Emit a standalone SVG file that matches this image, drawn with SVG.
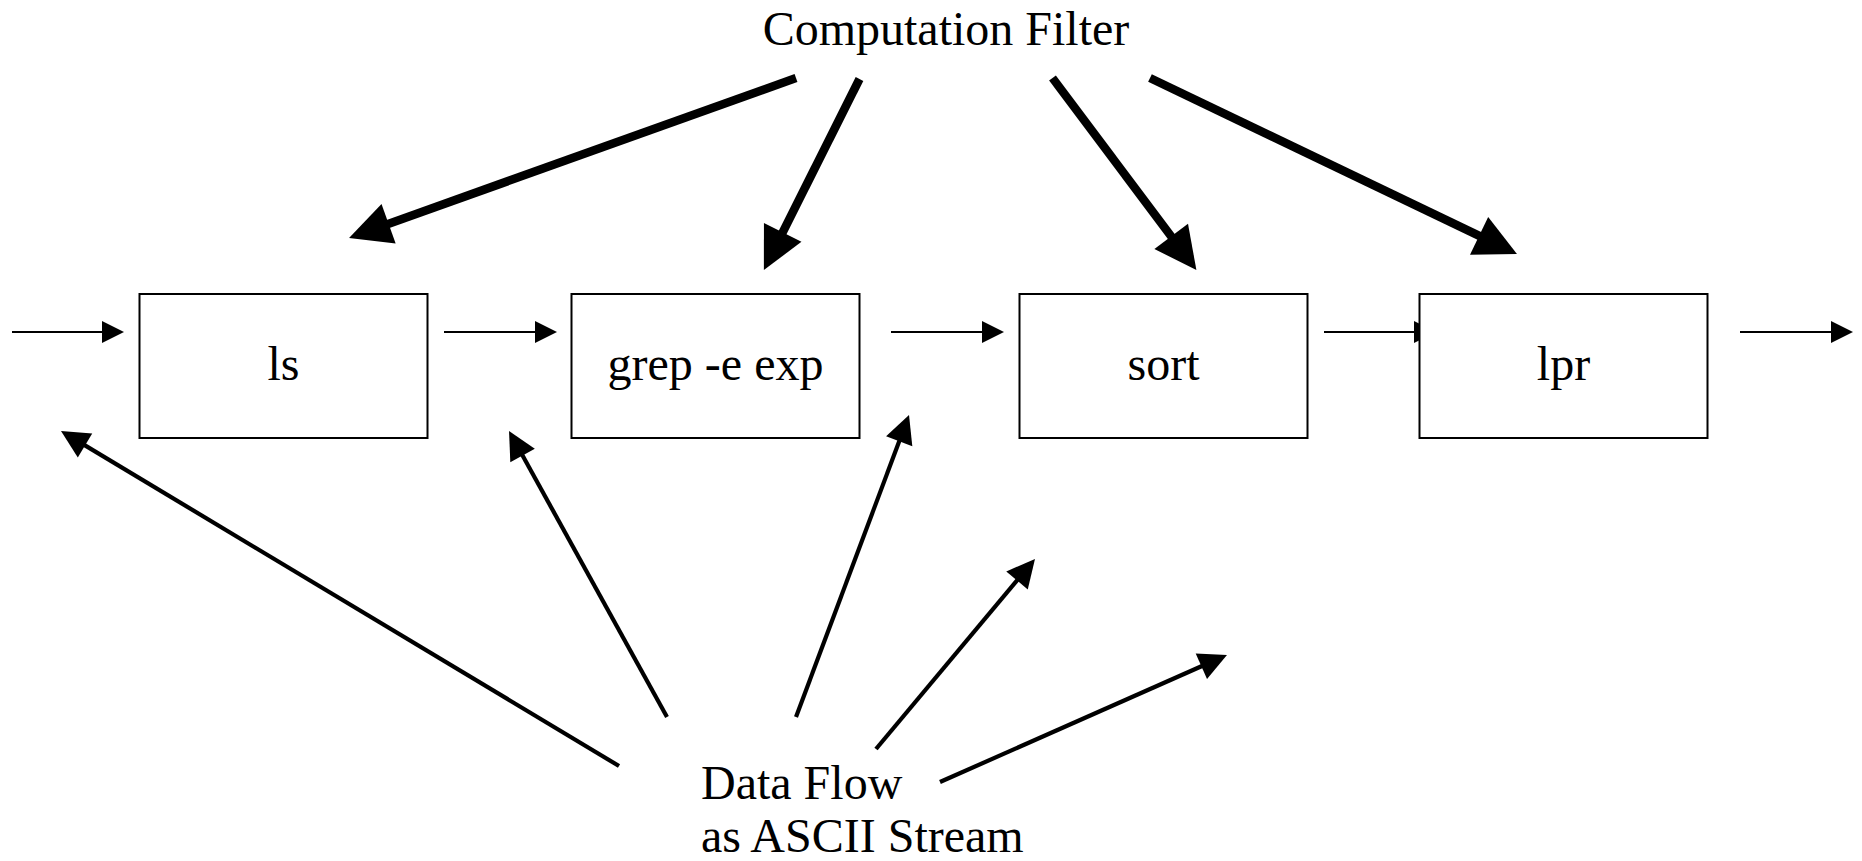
<svg xmlns="http://www.w3.org/2000/svg" width="1862" height="861" viewBox="0 0 1862 861">
<style>
.box{fill:#fff;stroke:#000;stroke-width:2}
.lbl{font-family:"Liberation Serif","Times New Roman",serif;font-size:48px;fill:#000}
.mid{text-anchor:middle}
.flow{stroke:#000;stroke-width:2.2;fill:none;marker-end:url(#hS)}
.ctl{stroke:#000;stroke-width:8.5;fill:none;marker-end:url(#hL)}
.dat{stroke:#000;stroke-width:4.2;fill:none;marker-end:url(#hM)}
</style>
<defs>
<marker id="hS" markerUnits="userSpaceOnUse" markerWidth="22" markerHeight="22" refX="2" refY="11" orient="auto" overflow="visible"><path d="M0,0 L22,11 L0,22 Z" fill="#000"/></marker>
<marker id="hM" markerUnits="userSpaceOnUse" markerWidth="28" markerHeight="28" refX="2" refY="14" orient="auto" overflow="visible"><path d="M0,0 L28,14 L0,28 Z" fill="#000"/></marker>
<marker id="hL" markerUnits="userSpaceOnUse" markerWidth="42" markerHeight="42" refX="2" refY="21" orient="auto" overflow="visible"><path d="M0,0 L42,21 L0,42 Z" fill="#000"/></marker>
</defs>
<rect width="1862" height="861" fill="#fff"/>
<g id="connectors">
<line class="flow" x1="12" y1="332" x2="104" y2="332"/>
<line class="flow" x1="444" y1="332" x2="537" y2="332"/>
<line class="flow" x1="891" y1="332" x2="984" y2="332"/>
<line class="flow" x1="1324" y1="332" x2="1416" y2="332"/>
<line class="flow" x1="1740" y1="332" x2="1833" y2="332"/>
<line class="ctl" x1="796" y1="78" x2="386.7" y2="224.5"/>
<line class="ctl" x1="859.5" y1="79" x2="781.8" y2="234.2"/>
<line class="ctl" x1="1052.5" y1="78" x2="1172.4" y2="238"/>
<line class="ctl" x1="1150" y1="78" x2="1480.9" y2="236.7"/>
<line class="dat" x1="619" y1="766" x2="83.3" y2="444.4"/>
<line class="dat" x1="667" y1="717" x2="521.6" y2="453.8"/>
<line class="dat" x1="796" y1="717" x2="899.9" y2="439.4"/>
<line class="dat" x1="876" y1="749" x2="1018.3" y2="578.9"/>
<line class="dat" x1="940" y1="782" x2="1203.2" y2="665.5"/>
</g>
<g id="node-ls"><rect class="box" x="139.5" y="294" width="288" height="144"/><text class="lbl mid" x="283.5" y="380">ls</text></g>
<g id="node-grep"><rect class="box" x="571.5" y="294" width="288" height="144"/><text class="lbl mid" x="715.5" y="380">grep -e exp</text></g>
<g id="node-sort"><rect class="box" x="1019.5" y="294" width="288" height="144"/><text class="lbl mid" x="1163.5" y="380">sort</text></g>
<g id="node-lpr"><rect class="box" x="1419.5" y="294" width="288" height="144"/><text class="lbl mid" x="1563.5" y="380">lpr</text></g>
<g id="label-filter"><text class="lbl mid" x="946" y="45">Computation Filter</text></g>
<g id="label-dataflow"><text class="lbl" x="701" y="799">Data Flow</text><text class="lbl" x="701" y="852">as ASCII Stream</text></g>
</svg>
